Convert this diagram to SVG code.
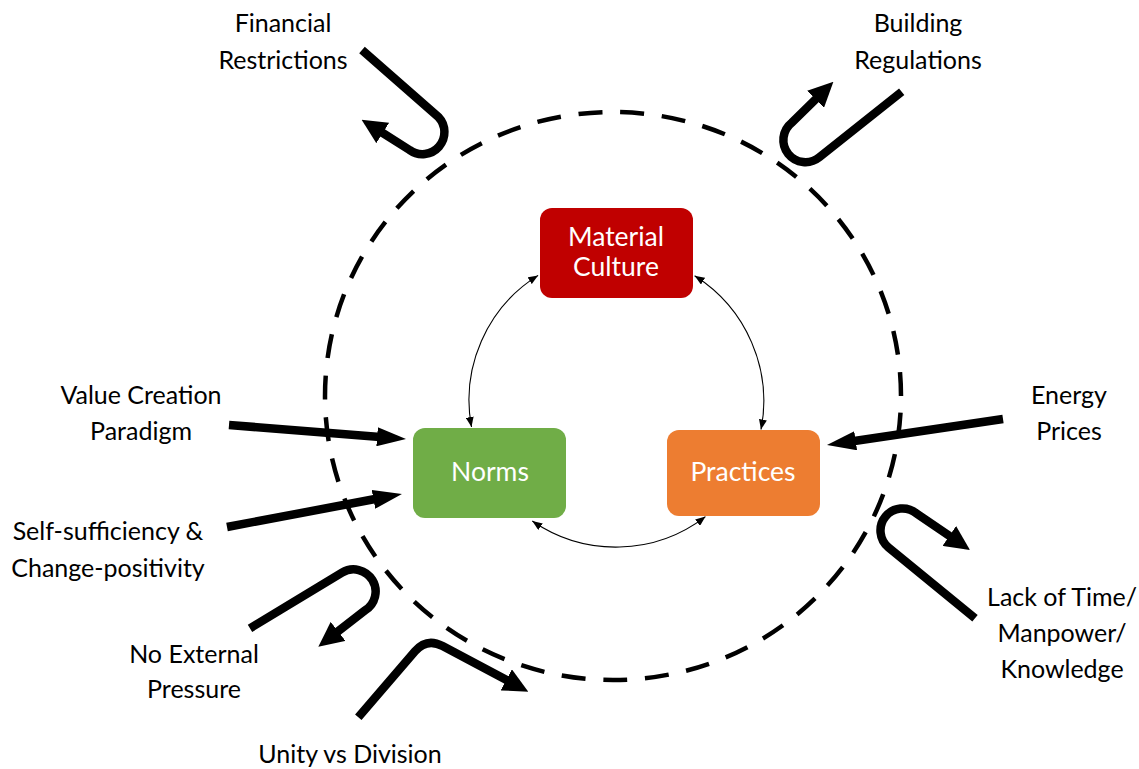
<svg xmlns="http://www.w3.org/2000/svg" width="1139" height="769" viewBox="0 0 1139 769">
  <style>
    .label { font-family: Lato, "Liberation Sans", sans-serif; font-size: 25px; fill: #000; text-anchor: middle; }
    .ntext { font-family: Lato, "Liberation Sans", sans-serif; font-size: 26.5px; fill: #fff; text-anchor: middle; }
    .thin { fill: none; stroke: #000; stroke-width: 1.1; marker-start: url(#smallHead); marker-end: url(#smallHead); }
    .force { fill: none; stroke: #000; stroke-width: 8.5; stroke-linejoin: round; }
    .straight { marker-end: url(#bigHeadS); }
    .turn { marker-end: url(#bigHeadU); }
  </style>
  <defs>
    <marker id="smallHead" markerUnits="userSpaceOnUse" viewBox="0 0 10 8" markerWidth="10" markerHeight="8" refX="10" refY="4" orient="auto-start-reverse">
      <path d="M0,0 L10,4 L0,8 z" fill="#000"/>
    </marker>
    <marker id="bigHeadS" markerUnits="userSpaceOnUse" viewBox="0 0 29 19" markerWidth="29" markerHeight="19" refX="3" refY="9.5" orient="auto">
      <path d="M0,0 L29,9.5 L0,19 z" fill="#000"/>
    </marker>
    <marker id="bigHeadU" markerUnits="userSpaceOnUse" viewBox="0 0 25 24" markerWidth="25" markerHeight="24" refX="3" refY="12" orient="auto">
      <path d="M0,0 L25,12 L0,24 z" fill="#000"/>
    </marker>
  </defs>
  <rect width="1139" height="769" fill="#fff"/>

  <!-- system boundary -->
  <ellipse id="boundary" cx="613" cy="396" rx="288" ry="284" fill="none" stroke="#000" stroke-width="4.5" stroke-dasharray="24 17.8" stroke-dashoffset="25"/>

  <g id="connectors">
    <!-- links between the three core elements -->
    <path class="thin" d="M538.1,275.4 A147,147 0 0 0 471.5,427"/>
    <path class="thin" d="M694.6,275.8 A148,148 0 0 1 761,429.5"/>
    <path class="thin" d="M532.3,521 A147,147 0 0 0 705.5,516.6"/>

    <!-- external influences -->
    <path class="force straight" d="M229,425 L380.1,436.9"/>
    <path class="force straight" d="M227,527 L376.4,498.8"/>
    <path class="force straight" d="M1003,419 L852.7,441.2"/>
    <path class="force turn" d="M362,50 L438.4,117 A22,22 0 0 1 409.6,150 L380.2,131.4"/>
    <path class="force turn" d="M901.7,91.7 L819.3,157.3 A22,22 0 0 1 791.7,122.7 L817.7,97.2"/>
    <path class="force turn" d="M975,618.3 L888.5,547.5 A22,22 0 0 1 916.5,513.5 L951.8,537.6"/>
    <path class="force turn" d="M250,628.3 L342,572.6 A22,22 0 0 1 365,610.4 L335.7,633.2"/>
    <path class="force turn" d="M358.3,717.3 L415,651.3 Q426.7,637.6 442.6,646 L508.9,681.3"/>
  </g>

  <g id="material-culture">
    <rect x="540" y="208" width="153" height="90" rx="12" fill="#C00000"/>
    <text class="ntext" x="616" y="246">Material</text>
    <text class="ntext" x="616" y="276">Culture</text>
  </g>
  <g id="norms">
    <rect x="413" y="428" width="153" height="90" rx="12" fill="#70AD47"/>
    <text class="ntext" x="490" y="481">Norms</text>
  </g>
  <g id="practices">
    <rect x="667" y="430" width="153" height="86" rx="12" fill="#ED7D31"/>
    <text class="ntext" x="743" y="481">Practices</text>
  </g>

  <g id="label-financial">
    <text class="label" x="283" y="32">Financial</text>
    <text class="label" x="283" y="69">Restrictions</text>
  </g>
  <g id="label-building">
    <text class="label" x="918" y="32">Building</text>
    <text class="label" x="918" y="69">Regulations</text>
  </g>
  <g id="label-value">
    <text class="label" x="141" y="404">Value Creation</text>
    <text class="label" x="141" y="440">Paradigm</text>
  </g>
  <g id="label-self">
    <text class="label" x="108" y="540">Self-sufficiency &amp;</text>
    <text class="label" x="108" y="577">Change-positivity</text>
  </g>
  <g id="label-pressure">
    <text class="label" x="194" y="663">No External</text>
    <text class="label" x="194" y="698">Pressure</text>
  </g>
  <g id="label-unity">
    <text class="label" x="350" y="763">Unity vs Division</text>
  </g>
  <g id="label-energy">
    <text class="label" x="1069" y="404">Energy</text>
    <text class="label" x="1069" y="440">Prices</text>
  </g>
  <g id="label-lack">
    <text class="label" x="1062" y="606">Lack of Time/</text>
    <text class="label" x="1062" y="642">Manpower/</text>
    <text class="label" x="1062" y="678">Knowledge</text>
  </g>
</svg>
